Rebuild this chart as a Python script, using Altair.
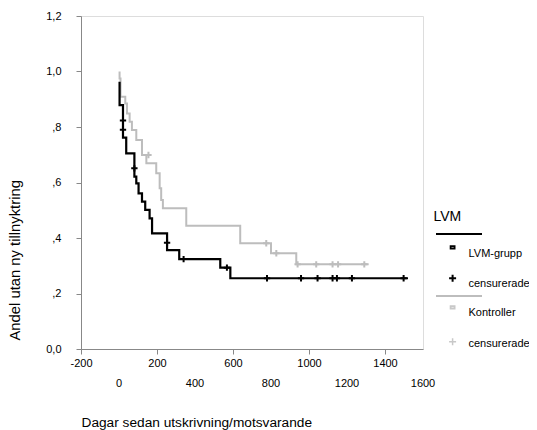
import altair as alt
import pandas as pd

# --- data -------------------------------------------------------------
lvm_days = [3, 3, 21, 38, 81, 91, 103, 121, 138, 161, 174, 253, 317, 533, 586, 1521]
lvm_surv = [0.963, 0.879, 0.762, 0.705, 0.621, 0.597, 0.561, 0.531, 0.501, 0.471, 0.417,
            0.356, 0.324, 0.293, 0.255, 0.255]
lvm_cens_days = [21, 21, 81, 253, 340, 568, 779, 958, 1045, 1124, 1147, 1226, 1498]
lvm_cens_surv = [0.823, 0.790, 0.651, 0.383, 0.324, 0.293, 0.255, 0.255, 0.255, 0.255,
                 0.255, 0.255, 0.255]

kon_days = [3, 3, 8, 33, 42, 56, 68, 91, 121, 144, 196, 214, 222, 231, 354, 638, 800, 933, 1314]
kon_surv = [1.0, 0.975, 0.909, 0.885, 0.849, 0.819, 0.789, 0.753, 0.699, 0.669, 0.633,
            0.579, 0.537, 0.507, 0.444, 0.381, 0.345, 0.305, 0.305]
kon_cens_days = [155, 775, 828, 940, 1038, 1124, 1153, 1291]
kon_cens_surv = [0.699, 0.381, 0.345, 0.305, 0.305, 0.305, 0.305, 0.305]

x_ticks = [-200, 0, 200, 400, 600, 800, 1000, 1200, 1400, 1600]
x_row1 = [-200, 200, 600, 1000, 1400]
x_row2 = [0, 400, 800, 1200, 1600]
y_ticks = [0.0, 0.2, 0.4, 0.6, 0.8, 1.0, 1.2]

legend_title = "LVM"
legend_labels = ["LVM-grupp", "censurerade", "Kontroller", "censurerade"]

BLACK = "#000000"
GREY = "#bdbdbd"
FONT = "Liberation Sans"
PLUS = "M-1,0L1,0M0,-1L0,1"

lvm = pd.DataFrame({"day": lvm_days, "surv": lvm_surv, "i": range(len(lvm_days))})
kon = pd.DataFrame({"day": kon_days, "surv": kon_surv, "i": range(len(kon_days))})
lvm_c = pd.DataFrame({"day": lvm_cens_days, "surv": lvm_cens_surv})
kon_c = pd.DataFrame({"day": kon_cens_days, "surv": kon_cens_surv})
row2 = pd.DataFrame({"v": x_row2, "lab": [str(v) for v in x_row2]})

xscale = alt.Scale(domain=[-200, 1600], nice=False, zero=False)
yscale = alt.Scale(domain=[0, 1.2], nice=False)

row1_test = " || ".join(f"datum.value == {v}" for v in x_row1)
xaxis = alt.Axis(
    values=x_ticks,
    labelExpr=f"({row1_test}) ? '' + datum.value : ''",
    labelFontSize=11,
    labelPadding=3,
    labelFlush=False,
    labelOverlap=False,
    tickSize=5,
    grid=False,
    title="Dagar sedan utskrivning/motsvarande",
    titleAnchor="start",
    titleBaseline="alphabetic",
    titleY=77,
    titleFontSize=13.7,
    titleFontWeight="normal",
)
yaxis = alt.Axis(
    values=y_ticks,
    labelExpr="datum.value < 0.01 ? '0,0' : (datum.value > 0.99 ? replace(format(datum.value, '.1f'), '.', ',') : replace(format(datum.value, '.1f'), '0.', ','))",
    labelFontSize=11,
    labelPadding=15,
    labelFlush=False,
    labelOverlap=False,
    tickSize=5,
    grid=False,
    title="Andel utan ny tillnyktring",
    titleAnchor="start",
    titleAngle=270,
    titleBaseline="middle",
    titleX=-66,
    titleY=324,
    titleFontSize=14.8,
    titleFontWeight="normal",
)

x = alt.X("day:Q", scale=xscale, axis=xaxis)
y = alt.Y("surv:Q", scale=yscale, axis=yaxis)

line_lvm = alt.Chart(lvm).mark_line(interpolate="step-after", color=BLACK, strokeWidth=2.2).encode(
    x=x, y=y, order=alt.Order("i:Q"))
line_kon = alt.Chart(kon).mark_line(interpolate="step-after", color=GREY, strokeWidth=2).encode(
    x=alt.X("day:Q", scale=xscale), y=alt.Y("surv:Q", scale=yscale), order=alt.Order("i:Q"))
cens_lvm = alt.Chart(lvm_c).mark_point(shape=PLUS, filled=False, color=BLACK, strokeWidth=2,
                                       size=40, opacity=1).encode(
    x=alt.X("day:Q", scale=xscale), y=alt.Y("surv:Q", scale=yscale))
cens_kon = alt.Chart(kon_c).mark_point(shape=PLUS, filled=False, color=GREY, strokeWidth=2,
                                       size=40, opacity=1).encode(
    x=alt.X("day:Q", scale=xscale), y=alt.Y("surv:Q", scale=yscale))

# second (staggered) row of x tick labels, positioned through the x scale
row2_text = alt.Chart(row2).mark_text(align="center", baseline="middle", font=FONT,
                                      fontSize=11, color=BLACK).encode(
    x=alt.X("v:Q", scale=xscale), y=alt.value(367.5), text="lab:N")

one = pd.DataFrame({"k": [0]})

def ltext(txt, px, py, size=11, baseline="middle"):
    return alt.Chart(one).mark_text(text=txt, align="left", baseline=baseline, font=FONT,
                                    fontSize=size, color=BLACK).encode(
        x=alt.value(px), y=alt.value(py))

def lrule(px1, px2, py, color):
    return alt.Chart(one).mark_rule(color=color, strokeWidth=2).encode(
        x=alt.value(px1), x2=alt.value(px2), y=alt.value(py))

def lsym(shape, px, py, color, size, sw):
    return alt.Chart(one).mark_point(shape=shape, filled=False, color=color, strokeWidth=sw,
                                     size=size, opacity=1).encode(
        x=alt.value(px), y=alt.value(py))

RECT = "M-1,-0.6L1,-0.6L1,0.6L-1,0.6Z"
legend = [
    ltext(legend_title, 352.5, 205, size=14, baseline="alphabetic"),
    lrule(355, 401, 218, BLACK),
    lsym(RECT, 371.6, 231.3, BLACK, 16, 1.8),
    ltext(legend_labels[0], 387.5, 237.5),
    lsym(PLUS, 371.6, 262.3, BLACK, 49, 2),
    ltext(legend_labels[1], 387.5, 268),
    lrule(355, 401, 280, GREY),
    lsym(RECT, 371.6, 291.3, "#c8c8c8", 16, 1.8),
    ltext(legend_labels[2], 387.5, 296.7),
    lsym(PLUS, 371.6, 325.7, "#c8c8c8", 49, 1.5),
    ltext(legend_labels[3], 387.5, 328.3),
]

chart = alt.layer(line_kon, line_lvm, cens_kon, cens_lvm, row2_text, *legend).properties(
    width=342, height=333,
    autosize=alt.AutoSizeParams(type="none"),
    padding={"left": 73, "top": 8, "right": 106, "bottom": 81},
).configure_view(
    stroke=BLACK, strokeWidth=2
).configure_axis(
    domainColor=BLACK, domainWidth=2, tickColor=BLACK, tickWidth=1.5,
    labelColor=BLACK, titleColor=BLACK, labelFont=FONT, titleFont=FONT,
).configure(background="white")

chart.save("out.html", embed_options={"renderer": "svg", "actions": False})
